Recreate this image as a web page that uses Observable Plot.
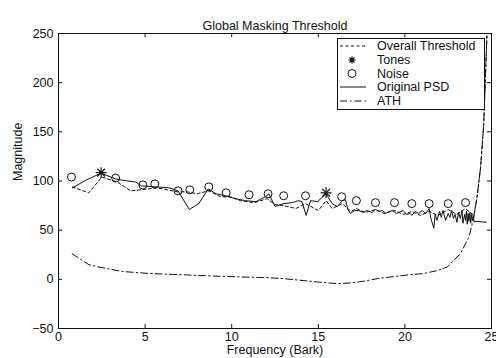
<!DOCTYPE html>
<html><head><meta charset="utf-8">
<script src="https://cdn.jsdelivr.net/npm/d3@7"></script>
<script src="https://cdn.jsdelivr.net/npm/@observablehq/plot@0.6"></script>
<style>
body{margin:0;background:#fff;}
#wrap{position:relative;width:496px;height:358px;overflow:hidden;font-family:"Liberation Sans",Arial,sans-serif;}
#legend{position:absolute;left:0;top:0;pointer-events:none;}
</style></head><body><div id="wrap"></div>
<script>
// Original PSD
const psdBark = [0.8,1.6,2.46,3.3,4.0,4.45,4.8,5.6,6.4,6.9,7.55,8.1,8.65,9.1,9.65,10.2,10.8,11.4,11.95,12.15,12.5,13.0,13.5,13.85,14.05,14.3,14.55,14.95,15.45,15.8,16.1,16.38,16.57,16.7,16.86,17.1,17.34,17.6,17.8,18.1,18.3,18.5,18.7,18.9,19.1,19.3,19.5,19.65,19.9,20.1,20.3,20.4,20.6,20.8,21.0,21.2,21.4,21.5,21.67,21.75,21.85,22.0,22.1,22.2,22.35,22.5,22.6,22.7,22.8,22.9,23.0,23.1,23.2,23.3,23.35,23.45,23.5,23.55,23.6,23.65,23.7,23.75,23.8,23.85,23.9,23.95,24.0,24.1,24.7];
const psdVal  = [93,101,108,102,100,99,95,94,93,90,71,77,92,87,85,82,80,79,84,87,74,77,78,80,79,65,80,79,87,77,74,80,81,71,67,70,70,68,70,68,71,69,70,67,69,70,67,68,70,66,67,65,69,67,70,67,72,62,52,66,60,69,63,70,60,67,63,70,62,66,58,68,62,70,57,66,60,69,56,67,59,68,57,66,60,65,58,59,58];
// Overall threshold
const thrBark = [0.8,1.75,2.5,3.4,4.16,4.73,5.7,6.85,7.43,8.0,8.68,9.35,9.93,10.5,11.3,12.05,12.5,13.0,13.7,14.26,15.0,15.45,15.8,16.38,16.9,17.2,17.7,18.3,18.8,19.4,19.9,20.4,20.9,21.4,21.9,22.5,23.0,23.5,23.98,24.17,24.37,24.55,24.74];
const thrVal  = [94,88,104,99,90,91,93,89,89,87,90,84,84,80,78,82,76,75,72,77,70,80,72,77,69,72,68,71,67,70,66,69,65,69,65,71,66,72,65,84,114,157,250];
// Absolute threshold of hearing
const athBark = [0.79,1.75,2.33,3.68,5.2,6.56,8.1,9.45,10.6,12.1,13.0,14.0,14.94,16.1,16.86,17.6,18.4,19.9,21.1,21.9,22.44,23.2,23.7,23.98,24.17,24.37,24.55,24.74];
const athVal  = [26,15,12.5,8,6,5,4,3,2.4,1.7,0.7,-1,-2.7,-4.4,-3.7,-2,0.7,4,6,9,12.5,26,43,63,84,114,157,250];
// Tonal maskers
const toneBark = [2.46,15.45];
const toneVal  = [108.5,88];
// Noise maskers
const noiseBark = [0.75,3.3,4.87,5.56,6.9,7.58,8.68,9.68,11.0,12.1,13.0,14.26,16.35,17.2,18.3,19.4,20.4,21.4,22.5,23.5];
const noiseVal  = [104,103,96,97,90,91,94,88,86,87,85,85,84,80,78,78,77,77,77,78];

const xTicks = [0,5,10,15,20,25];
const yTicks = [-50,0,50,100,150,200,250];
const legendLabels = ["Overall Threshold","Tones","Noise","Original PSD","ATH"];
const titleText = "Global Masking Threshold";
const xLabel = "Frequency (Bark)";
const yLabel = "Magnitude";

const rows = (xs, ys) => xs.map((x, i) => ({x, y: ys[i]}));
const psd = rows(psdBark, psdVal);
const thr = rows(thrBark, thrVal);
const ath = rows(athBark, athVal);
const tones = rows(toneBark, toneVal);
const noise = rows(noiseBark, noiseVal);

const font = '"Liberation Sans", Arial, sans-serif';
const ink = "#111";

const chart = Plot.plot({
  width: 496, height: 358,
  marginLeft: 58, marginRight: 5, marginTop: 33, marginBottom: 30,
  style: {fontFamily: font, fontSize: "12.5px", background: "white", color: ink},
  x: {domain: [0, 25], ticks: xTicks, tickSize: 0, tickPadding: 4, label: null},
  y: {domain: [-50, 250], ticks: yTicks, tickSize: 0, tickPadding: 5, label: null},
  marks: [
    Plot.line(ath, {x: "x", y: "y", stroke: ink, strokeWidth: 1, strokeDasharray: "7,3,1.5,3", clip: true}),
    Plot.line(thr, {x: "x", y: "y", stroke: ink, strokeWidth: 1, strokeDasharray: "3,2.5", clip: true}),
    Plot.line(psd, {x: "x", y: "y", stroke: ink, strokeWidth: 1, clip: true}),
    Plot.dot(noise, {x: "x", y: "y", r: 4, stroke: ink, fill: "none", strokeWidth: 1}),
    Plot.dot(tones, {x: "x", y: "y", r: 3.6, symbol: "plus", stroke: ink, strokeWidth: 1.2}),
    Plot.dot(tones, {x: "x", y: "y", r: 3.6, symbol: "times", stroke: ink, strokeWidth: 1.2}),
    Plot.frame({stroke: ink}),
    Plot.tickX(xTicks, {x: d => d, insetTop: 291, stroke: ink}),
    Plot.tickX(xTicks, {x: d => d, insetBottom: 291, stroke: ink}),
    Plot.tickY(yTicks, {y: d => d, insetRight: 429, stroke: ink}),
    Plot.tickY(yTicks, {y: d => d, insetLeft: 429, stroke: ink}),
    Plot.text([titleText], {text: d => d, frameAnchor: "top", dy: -12.5, fill: ink}),
    Plot.text([xLabel], {text: d => d, frameAnchor: "bottom", dy: 25.5, fill: ink}),
    Plot.text([yLabel], {text: d => d, frameAnchor: "left", dx: -41, rotate: -90, fill: ink})
  ]
});
const wrap = document.getElementById("wrap");
wrap.appendChild(chart);

// Legend overlay inside the plot area
const lg = d3.select(wrap).append("svg").attr("id", "legend").attr("width", 496).attr("height", 358)
  .style("font-family", font).style("font-size", "12.5px");
lg.append("rect").attr("x", 337.5).attr("y", 38.5).attr("width", 147).attr("height", 71)
  .attr("fill", "white").attr("stroke", ink);
const rowY = [46, 60, 73.5, 87, 101];
legendLabels.forEach((t, i) => {
  lg.append("text").attr("x", 377).attr("y", rowY[i]).attr("dy", "0.35em").attr("fill", ink).text(t);
});
lg.append("line").attr("x1", 340).attr("x2", 366).attr("y1", rowY[0]).attr("y2", rowY[0]).attr("stroke", ink).attr("stroke-dasharray", "3,2.5");
const s = 3.6;
lg.append("path").attr("d", `M${352-s},${rowY[1]}H${352+s}M352,${rowY[1]-s}V${rowY[1]+s}M${352-s*0.7},${rowY[1]-s*0.7}L${352+s*0.7},${rowY[1]+s*0.7}M${352-s*0.7},${rowY[1]+s*0.7}L${352+s*0.7},${rowY[1]-s*0.7}`).attr("stroke", ink).attr("stroke-width", 1.2);
lg.append("circle").attr("cx", 352).attr("cy", rowY[2]).attr("r", 4).attr("fill", "none").attr("stroke", ink);
lg.append("line").attr("x1", 340).attr("x2", 366).attr("y1", rowY[3]).attr("y2", rowY[3]).attr("stroke", ink);
lg.append("line").attr("x1", 340).attr("x2", 366).attr("y1", rowY[4]).attr("y2", rowY[4]).attr("stroke", ink).attr("stroke-dasharray", "7,3,1.5,3");
</script></body></html>
